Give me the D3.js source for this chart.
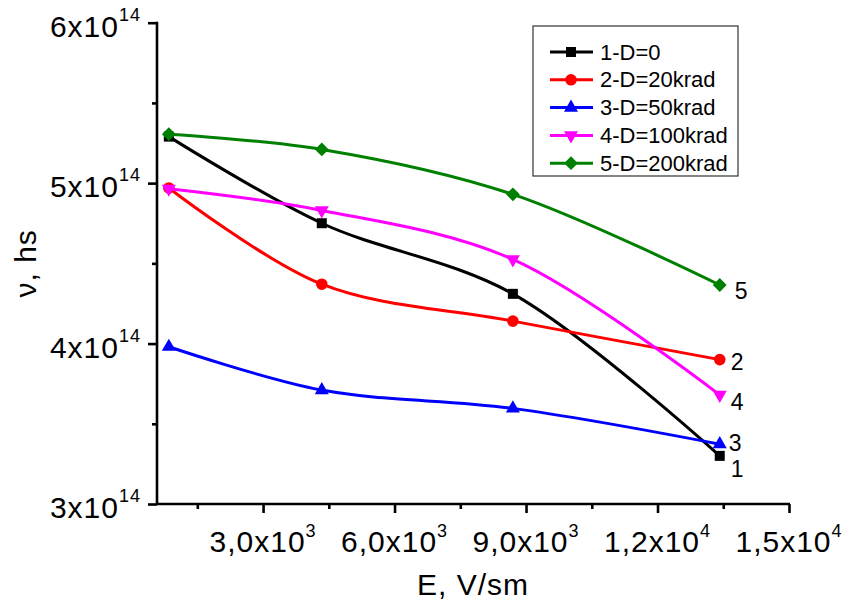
<!DOCTYPE html>
<html>
<head>
<meta charset="utf-8">
<script src="https://cdn.jsdelivr.net/npm/d3@7"></script>
<style>
  html, body { margin: 0; padding: 0; background: #fff; }
  svg { display: block; font-family: "Liberation Sans", Arial, Helvetica, sans-serif; }
</style>
</head>
<body>
<svg id="chart" width="848" height="616"></svg>
<script>
// ---- data ----
const fieldE = [850, 4340, 8700, 13420];              // E, V/sm
const seriesNames = ["1-D=0", "2-D=20krad", "3-D=50krad", "4-D=100krad", "5-D=200krad"];
const curveLabels = ["1", "2", "3", "4", "5"];
// ν values in units of 1e14 hs
const nu1 = [5.29, 4.75, 4.31, 3.30];
const nu2 = [4.97, 4.37, 4.14, 3.90];
const nu3 = [3.98, 3.71, 3.596, 3.373];
const nu4 = [4.965, 4.83, 4.525, 3.68];
const nu5 = [5.305, 5.21, 4.93, 4.365];
const xMajorTicks = [3000, 6000, 9000, 12000, 15000];
const xMinorTicks = [1500, 4500, 7500, 10500, 13500];
const xTickMantissa = ["3,0x10", "6,0x10", "9,0x10", "1,2x10", "1,5x10"];
const xTickExp = ["3", "3", "3", "4", "4"];
const yMajorTicks = [3, 4, 5, 6];
const yMinorTicks = [3.5, 4.5, 5.5];
const yTickMantissa = ["3x10", "4x10", "5x10", "6x10"];
const yTickExp = ["14", "14", "14", "14"];

// ---- styling ----
const colors = ["#000000", "#ff0000", "#0000ff", "#ff00ff", "#008000"];
const symbols = [
  {type: d3.symbolSquare, size: 100, rot: 0},
  {type: d3.symbolCircle, size: 105, rot: 0},
  {type: d3.symbolTriangle, size: 85, rot: 0},
  {type: d3.symbolTriangle, size: 85, rot: 180},
  {type: d3.symbolSquare, size: 95, rot: 45}
];
const labelDy = [21, 10, 7, 15, 14];
const labelDx = [11, 11, 9, 11, 15];

const allSeries = [nu1, nu2, nu3, nu4, nu5];

const svg = d3.select("#chart");
const x = d3.scaleLinear().domain([580, 15000]).range([157, 789]);
const y = d3.scaleLinear().domain([3, 6]).range([504, 22.7]);

const axisW = 2.6;

// X axis
const gx = svg.append("g").attr("transform", `translate(0,${y(3)})`);
gx.call(d3.axisBottom(x).tickValues(xMajorTicks).tickSize(9).tickSizeOuter(0).tickFormat(""));
gx.select(".domain").attr("stroke-width", axisW).attr("d", `M${x.range()[0] - 1},0H${x.range()[1] + 1}`);
gx.selectAll(".tick line").attr("stroke-width", axisW);
const gxm = svg.append("g").attr("transform", `translate(0,${y(3)})`);
gxm.call(d3.axisBottom(x).tickValues(xMinorTicks).tickSize(5).tickSizeOuter(0).tickFormat(""));
gxm.select(".domain").remove();
gxm.selectAll(".tick line").attr("stroke-width", axisW);

// Y axis
const gy = svg.append("g").attr("transform", `translate(${x(580)},0)`);
gy.call(d3.axisLeft(y).tickValues(yMajorTicks).tickSize(9).tickSizeOuter(0).tickFormat(""));
gy.select(".domain").attr("stroke-width", axisW).attr("d", `M0,${y.range()[0] + 1}V${y.range()[1] - 1}`);
gy.selectAll(".tick line").attr("stroke-width", axisW);
const gym = svg.append("g").attr("transform", `translate(${x(580)},0)`);
gym.call(d3.axisLeft(y).tickValues(yMinorTicks).tickSize(5).tickSizeOuter(0).tickFormat(""));
gym.select(".domain").remove();
gym.selectAll(".tick line").attr("stroke-width", axisW);

// X tick labels
xMajorTicks.forEach((v, i) => {
  const t = svg.append("text")
    .attr("x", x(v)).attr("y", y(3) + 47.5)
    .attr("text-anchor", "middle")
    .attr("font-size", 30).attr("letter-spacing", 1)
    .attr("fill", "#000");
  t.append("tspan").text(xTickMantissa[i]);
  t.append("tspan").attr("dy", -15).attr("font-size", 18).text(xTickExp[i]);
});

// Y tick labels
yMajorTicks.forEach((v, i) => {
  const t = svg.append("text")
    .attr("x", 141).attr("y", y(v) + 14)
    .attr("text-anchor", "end")
    .attr("font-size", 30).attr("letter-spacing", 1)
    .attr("fill", "#000");
  t.append("tspan").text(yTickMantissa[i]);
  t.append("tspan").attr("dy", -16).attr("font-size", 18).text(yTickExp[i]);
});

// Axis titles
svg.append("text")
  .attr("transform", `translate(36,${(y(3) + y(6)) / 2})rotate(-90)`)
  .attr("text-anchor", "middle").attr("font-size", 30).attr("letter-spacing", 1)
  .text("ν, hs");
svg.append("text")
  .attr("x", (x(580) + x(15000)) / 2 + 0).attr("y", 595)
  .attr("text-anchor", "middle").attr("font-size", 30).attr("letter-spacing", 1)
  .text("E, V/sm");

// Lines and markers
const line = d3.line()
  .x((d, i) => x(fieldE[i]))
  .y(d => y(d))
  .curve(d3.curveCatmullRom.alpha(0.5));

allSeries.forEach((vals, s) => {
  svg.append("path")
    .datum(vals)
    .attr("d", line)
    .attr("fill", "none")
    .attr("stroke", colors[s])
    .attr("stroke-width", 3);
  const sym = d3.symbol().type(symbols[s].type).size(symbols[s].size);
  svg.append("g").selectAll("path")
    .data(vals)
    .join("path")
    .attr("d", sym)
    .attr("transform", (d, i) => `translate(${x(fieldE[i])},${y(d)})rotate(${symbols[s].rot})`)
    .attr("fill", colors[s]);
  const last = vals.length - 1;
  svg.append("text")
    .attr("x", x(fieldE[last]) + labelDx[s])
    .attr("y", y(vals[last]) + labelDy[s])
    .attr("font-size", 23)
    .attr("fill", "#000")
    .text(curveLabels[s]);
});

// Legend
const legend = svg.append("g");
legend.append("rect")
  .attr("x", 533).attr("y", 26).attr("width", 205).attr("height", 150)
  .attr("fill", "#fff").attr("stroke", "#333").attr("stroke-width", 1.2);
seriesNames.forEach((name, s) => {
  const cy = 52 + s * 27.8;
  legend.append("line")
    .attr("x1", 550).attr("x2", 593).attr("y1", cy).attr("y2", cy)
    .attr("stroke", colors[s]).attr("stroke-width", 3);
  legend.append("path")
    .attr("d", d3.symbol().type(symbols[s].type).size(symbols[s].size))
    .attr("transform", `translate(571,${cy})rotate(${symbols[s].rot})`)
    .attr("fill", colors[s]);
  legend.append("text")
    .attr("x", 600).attr("y", cy + 7.5)
    .attr("font-size", 22)
    .attr("fill", "#000")
    .text(name);
});
</script>
</body>
</html>
